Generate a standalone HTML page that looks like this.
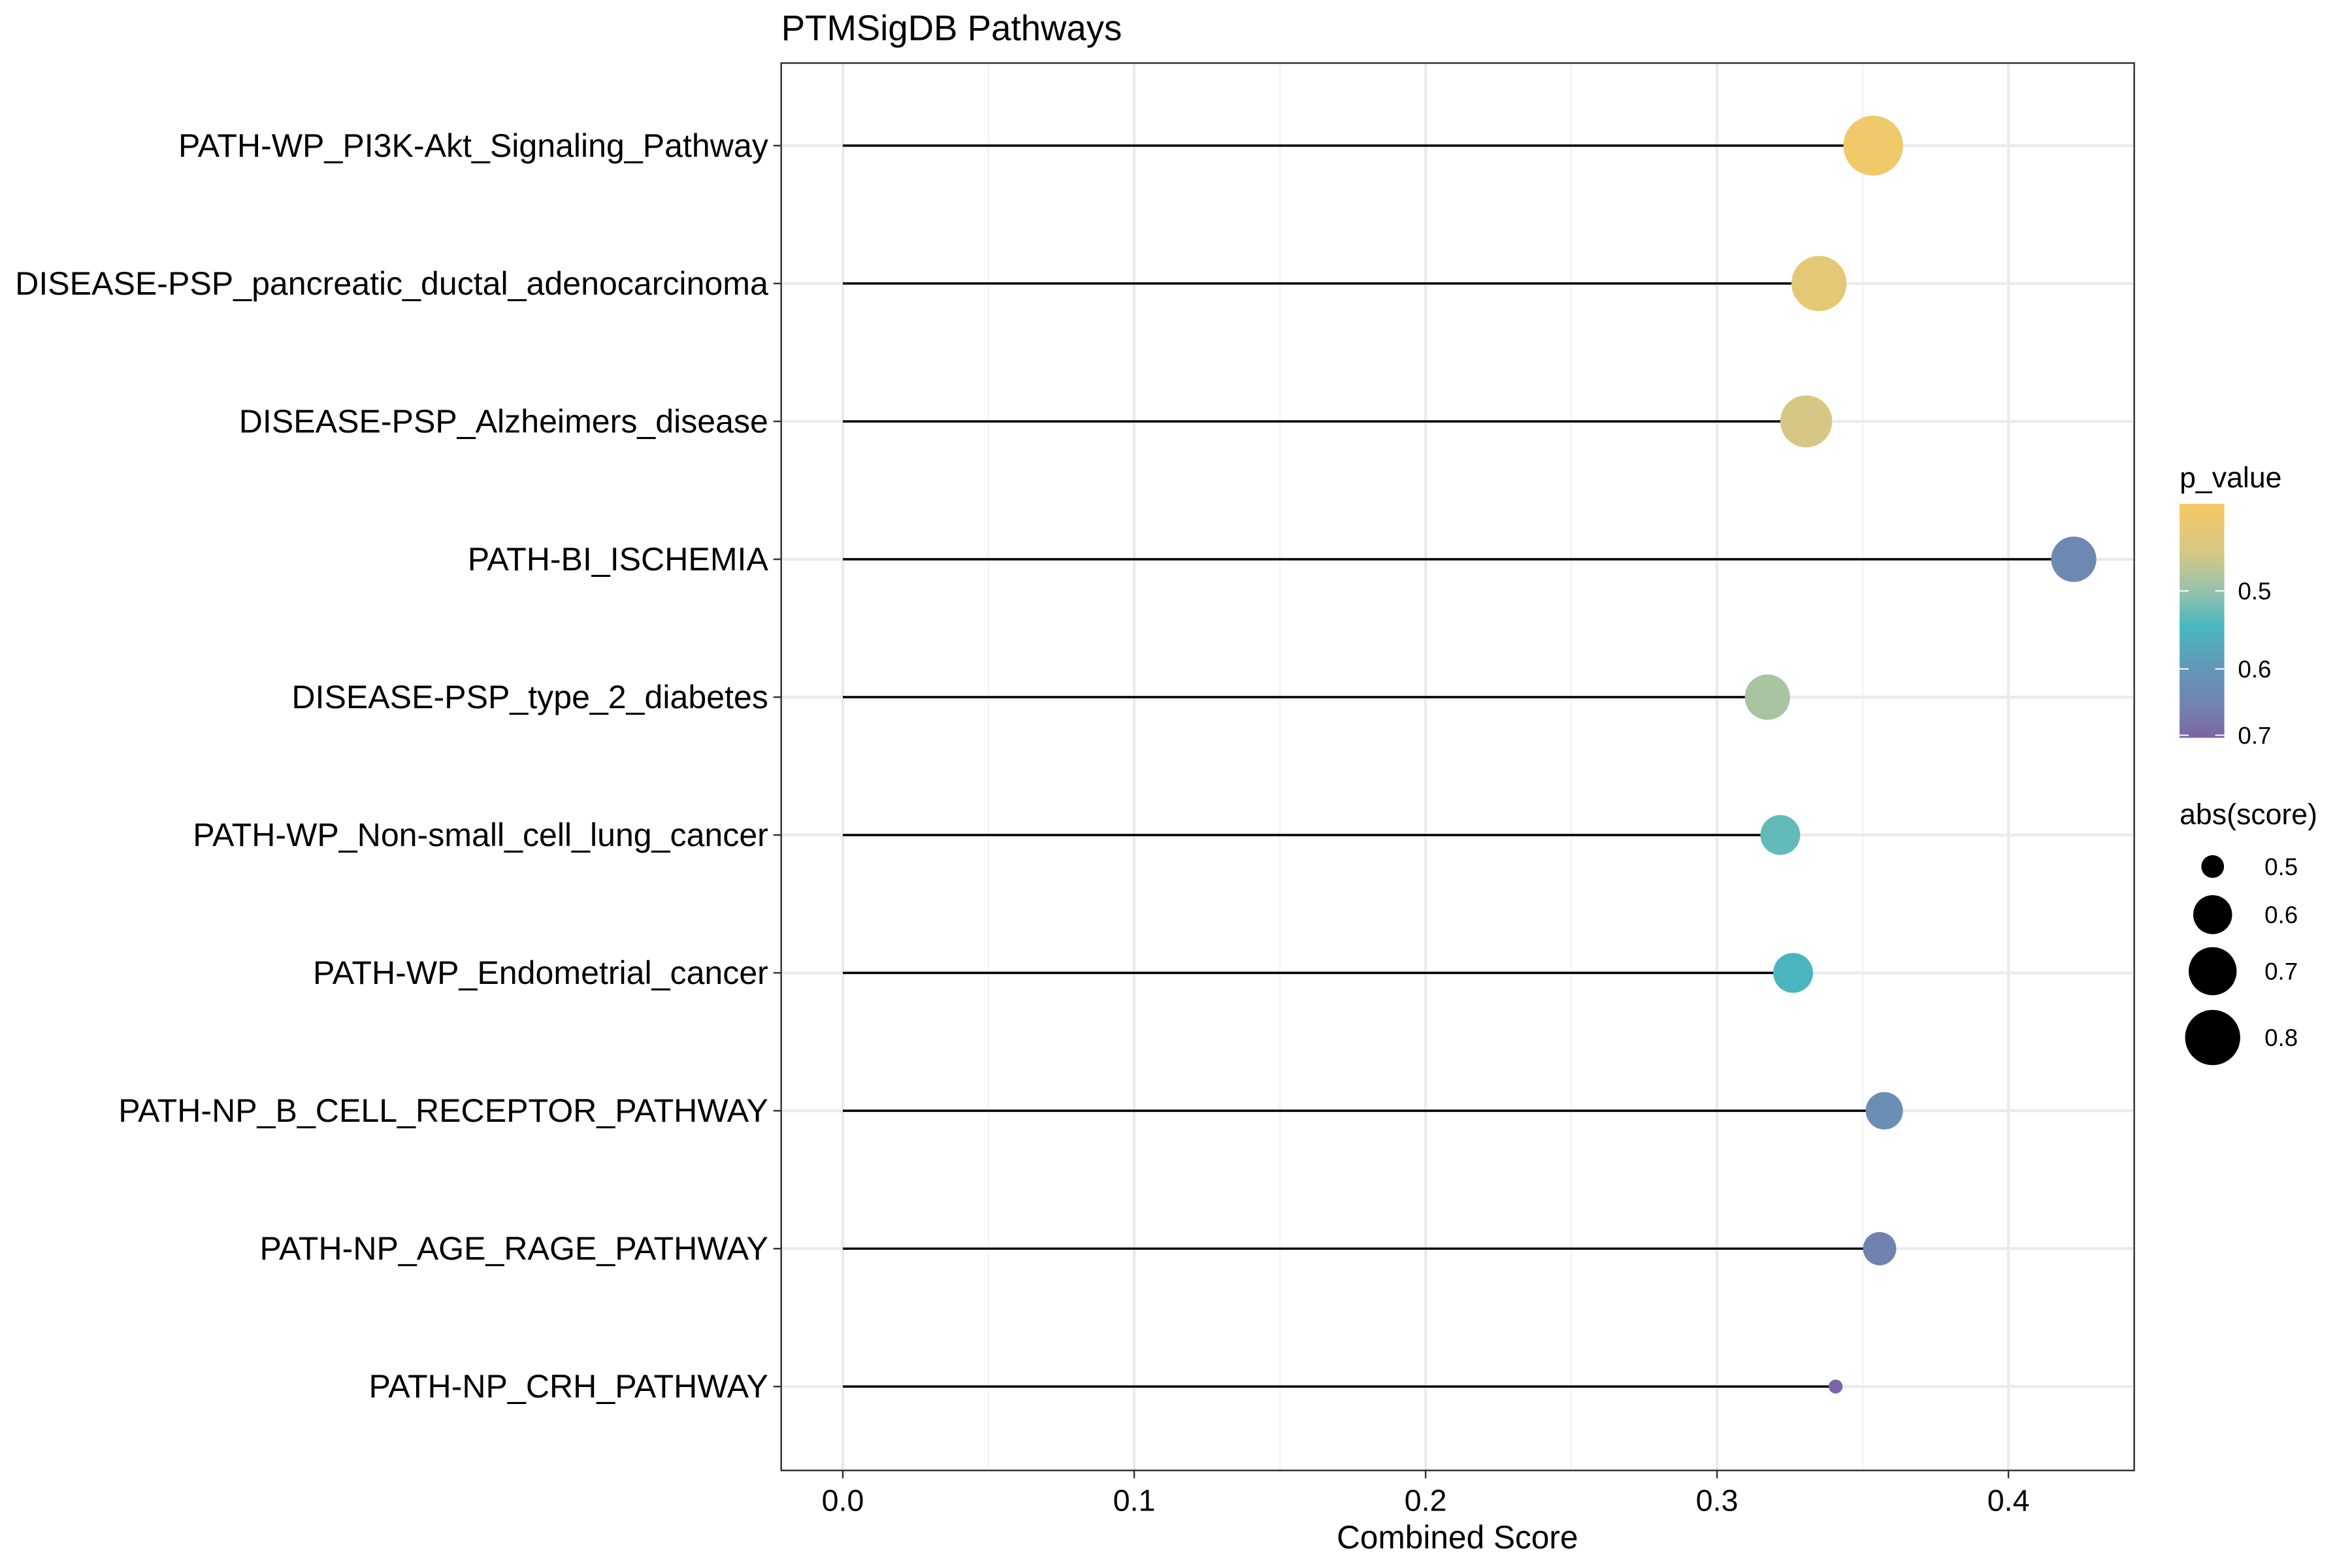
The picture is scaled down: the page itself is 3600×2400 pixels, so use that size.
<!DOCTYPE html>
<html><head><meta charset="utf-8"><style>
html,body{margin:0;padding:0;background:#fff;}
svg{display:block;font-family:"Liberation Sans",Arial,sans-serif;}
</style></head><body>
<svg id="chart" width="3600" height="2400" viewBox="0 0 3600 2400" xmlns="http://www.w3.org/2000/svg">
<rect x="0" y="0" width="3600" height="2400" fill="#fff"/>
<g transform="scale(0.9923,0.995)">
<text x="1205" y="62" font-size="55" fill="#000">PTMSigDB Pathways</text>
<g id="grid"></g>
<g id="marks"></g>
<rect x="1205" y="97" width="2087" height="2165" fill="none" stroke="#333" stroke-width="2.5"/>
<g id="axes"></g>
<text x="2248" y="2382" font-size="50" text-anchor="middle" fill="#000">Combined Score</text>
<g id="legend"></g>
</g>
</svg>
<script>
const categories = ["PATH-WP_PI3K-Akt_Signaling_Pathway","DISEASE-PSP_pancreatic_ductal_adenocarcinoma","DISEASE-PSP_Alzheimers_disease","PATH-BI_ISCHEMIA","DISEASE-PSP_type_2_diabetes","PATH-WP_Non-small_cell_lung_cancer","PATH-WP_Endometrial_cancer","PATH-NP_B_CELL_RECEPTOR_PATHWAY","PATH-NP_AGE_RAGE_PATHWAY","PATH-NP_CRH_PATHWAY"];
const combinedScore = [0.3536,0.335,0.3306,0.4224,0.3173,0.3217,0.3261,0.3574,0.3558,0.3407];
const pValue = [0.40,0.42,0.45,0.635,0.485,0.53,0.55,0.62,0.65,0.685];
const absScore = [0.864,0.80,0.755,0.67,0.67,0.61,0.61,0.59,0.565,0.446];
const xTicks = [0,0.1,0.2,0.3,0.4];
const xTickLabels = ["0.0","0.1","0.2","0.3","0.4"];
const xMinor = [0.05,0.15,0.25,0.35];
const pTicks = [0.5,0.6,0.7];
const sizeBreaks = [0.5,0.6,0.7,0.8];

const NS="http://www.w3.org/2000/svg";
function mk(tag,attrs,parent){const e=document.createElementNS(NS,tag);for(const k in attrs)e.setAttribute(k,attrs[k]);parent.appendChild(e);return e;}
const X0=1300, XS=4495;
function xScale(v){return X0+v*XS;}
function yScale(i){return 224+i*212.1;}
const rKnots=[[0.5,17.5],[0.6,30],[0.7,37],[0.8,42.5]];
function rScale(s){
  const k=rKnots;
  if(s<=k[0][0]){return Math.max(2,k[0][1]+(s-k[0][0])*(k[1][1]-k[0][1])/(k[1][0]-k[0][0]));}
  for(let i=0;i<k.length-1;i++){if(s<=k[i+1][0]){return k[i][1]+(s-k[i][0])*(k[i+1][1]-k[i][1])/(k[i+1][0]-k[i][0]);}}
  const n=k.length-1;return k[n][1]+(s-k[n][0])*(k[n][1]-k[n-1][1])/(k[n][0]-k[n-1][0]);
}
const cStops=[[0.388,[245,201,100]],[0.45,[214,200,132]],[0.5,[150,194,172]],[0.545,[72,184,192]],[0.6,[100,150,184]],[0.65,[114,130,174]],[0.688,[125,99,163]]];
function rgb(a){return "rgb("+a.map(v=>Math.round(v)).join(",")+")";}
function cScale(p){
  if(p<=cStops[0][0])return rgb(cStops[0][1]);
  for(let i=0;i<cStops.length-1;i++){const a=cStops[i],b=cStops[i+1];if(p<=b[0]){const t=(p-a[0])/(b[0]-a[0]);return rgb(a[1].map((v,j)=>v+(b[1][j]-v)*t));}}
  return rgb(cStops[cStops.length-1][1]);
}
function pY(p){return 909+(p-0.5)*1200;}

const gridG=document.getElementById('grid'), marksG=document.getElementById('marks'), axesG=document.getElementById('axes'), legG=document.getElementById('legend');
xMinor.forEach(v=>{
  const l=mk('line',{x1:xScale(v),x2:xScale(v),y1:97,y2:2262,stroke:'#f2f2f2','stroke-width':2.3},gridG);
  
  
});
xTicks.forEach((v,i)=>{
  const l=mk('line',{x1:xScale(v),x2:xScale(v),y1:97,y2:2262,stroke:'#ebebeb','stroke-width':4.5},gridG);
  
  
  const t=mk('line',{x1:xScale(v),x2:xScale(v),y1:2262,y2:2274,stroke:'#333','stroke-width':2.5},axesG);
  
  
  const tx=mk('text',{x:xScale(v),y:2324,'font-size':47,'text-anchor':'middle',fill:'#000'},axesG);
  tx.textContent=xTickLabels[i];
  
  
});
categories.forEach((c,i)=>{
  const y=yScale(i);
  const g=mk('line',{x1:1205,x2:3292,y1:y,y2:y,stroke:'#ebebeb','stroke-width':4.5},gridG);
  
  
  const t=mk('line',{x1:1193,x2:1205,y1:y,y2:y,stroke:'#333','stroke-width':2.5},axesG);
  
  
  const tx=mk('text',{x:1185,y:y+17,'font-size':50.5,'text-anchor':'end',fill:'#000'},axesG);
  tx.textContent=c;
  
  
  const s=mk('line',{x1:xScale(0),x2:xScale(combinedScore[i]),y1:y,y2:y,stroke:'#000','stroke-width':3.5},marksG);
  
  
  const p=mk('circle',{cx:xScale(combinedScore[i]),cy:y,r:rScale(absScore[i]),fill:cScale(pValue[i])},marksG);
  
  
});
const lt=mk('text',{x:3362,y:750,'font-size':45,fill:'#000'},legG);
lt.textContent='p_value';


const defs=mk('defs',{},legG);
const gr=mk('linearGradient',{id:'pg',x1:0,y1:0,x2:0,y2:1},defs);
const barTop=775,barBot=1135;
cStops.forEach(s=>{mk('stop',{offset:((pY(s[0])-barTop)/(barBot-barTop)).toFixed(3),'stop-color':rgb(s[1])},gr);});
const cb=mk('rect',{x:3362,y:barTop,width:69,height:barBot-barTop,fill:'url(#pg)'},legG);


pTicks.forEach(p=>{
  const y=Math.min(pY(p),barBot-4);
  mk('line',{x1:3362,x2:3376,y1:y,y2:y,stroke:'#fff','stroke-width':2},legG);
  mk('line',{x1:3417,x2:3431,y1:y,y2:y,stroke:'#fff','stroke-width':2},legG);
  const t=mk('text',{x:3452,y:y+13,'font-size':37,fill:'#000'},legG);
  t.textContent=p.toFixed(1);
  
  
});
const st=mk('text',{x:3362,y:1268,'font-size':45,fill:'#000'},legG);
st.textContent='abs(score)';


const sy=[1333,1407,1494,1596];
sizeBreaks.forEach((b,i)=>{
  const c=mk('circle',{cx:3413,cy:sy[i],r:rScale(b),fill:'#000'},legG);
  
  
  const t=mk('text',{x:3493,y:sy[i]+13,'font-size':37,fill:'#000'},legG);
  t.textContent=b.toFixed(1);
  
  
});
</script>
</body></html>
